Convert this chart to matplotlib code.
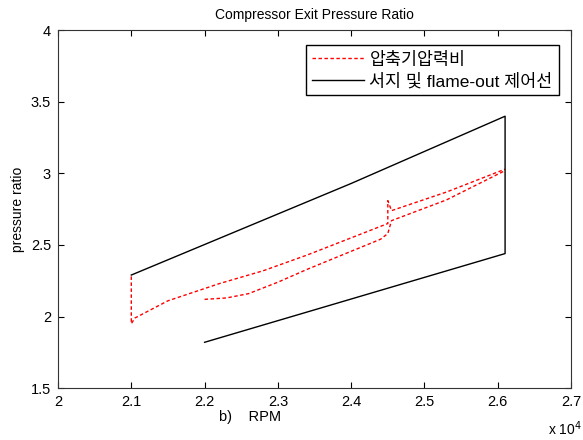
import matplotlib
matplotlib.use("Agg")
import matplotlib.pyplot as plt

plt.rcParams["font.family"] = ["Liberation Sans", "Noto Sans CJK KR", "DejaVu Sans"]

# 데이터 (RPM, 압력비)
limit_rpm = [21000, 24000, 26100, 26100, 22000]
limit_pr = [2.29, 2.93, 3.40, 2.44, 1.82]

upper_rpm = [21000, 21000, 21050, 21500, 22200, 22800, 23400, 24400, 24500,
             24500, 24550, 25300, 26100]
upper_pr = [2.28, 1.95, 1.99, 2.11, 2.23, 2.32, 2.43, 2.63, 2.65,
            2.81, 2.74, 2.87, 3.03]

lower_rpm = [22000, 22300, 22600, 23000, 23400, 24400, 24500, 24550, 25300, 26100]
lower_pr = [2.12, 2.13, 2.16, 2.24, 2.33, 2.54, 2.58, 2.67, 2.815, 3.02]

xticks = [2, 2.1, 2.2, 2.3, 2.4, 2.5, 2.6, 2.7]
yticks = [1.5, 2, 2.5, 3, 3.5, 4]

fig = plt.figure(figsize=(5.83, 4.4), dpi=100)
ax = fig.add_axes([0.0995, 0.118, 0.88, 0.813])

scale = 1e4
ax.plot([r / scale for r in upper_rpm], upper_pr, color="red", linestyle="--",
        linewidth=1, dashes=(2.5, 1.8), label="압축기압력비")
ax.plot([r / scale for r in lower_rpm], lower_pr, color="red", linestyle="--",
        linewidth=1, dashes=(2.5, 1.8))
ax.plot([r / scale for r in limit_rpm], limit_pr, color="black", linewidth=1,
        label="서지 및 flame-out 제어선")

ax.set_xlim(2, 2.7)
ax.set_ylim(1.5, 4)
ax.set_xticks(xticks)
ax.set_xticklabels([f"{t:g}" for t in xticks])
ax.set_yticks(yticks)
ax.set_yticklabels([f"{t:g}" for t in yticks])
ax.tick_params(direction="in", top=True, right=True, labelsize=10.5, length=4,
               pad=5)
for s in ax.spines.values():
    s.set_color("#333333")

ax.set_title("Compressor Exit Pressure Ratio", fontsize=10, pad=8)
ax.set_ylabel("pressure ratio", fontsize=10)
ax.set_xlabel("b)    RPM", fontsize=10.5)
ax.xaxis.set_label_coords(0.374, -0.06)
fig.text(0.94, 0.012, r"x 10$^4$", fontsize=10)

leg = ax.legend(loc="upper right", bbox_to_anchor=(0.993, 0.982), fontsize=12.5,
                fancybox=False, edgecolor="black", framealpha=1,
                borderpad=0.35, labelspacing=0.3, handlelength=3.0,
                handletextpad=0.3)
leg.get_frame().set_linewidth(1)

fig.savefig("out.png", dpi=100)
